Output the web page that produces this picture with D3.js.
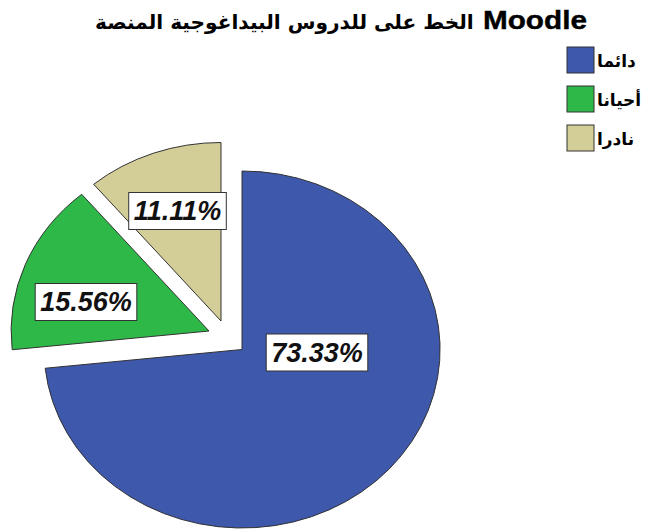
<!DOCTYPE html>
<html><head><meta charset="utf-8">
<script src="https://cdn.jsdelivr.net/npm/d3@7"></script>
<style>body{margin:0;background:#fff}</style>
</head><body>
<svg id="c" width="651" height="532"></svg>
<script>
// ---- data ----
const categories = ["دائما", "أحيانا", "نادرا"];
const percentages = [73.33, 15.56, 11.11];
const labelTexts = ["73.33%", "15.56%", "11.11%"];
const titleLatin = "Moodle";
const titleArabic = "الخط على للدروس البيداغوجية المنصة";

// ---- style / layout ----
const colors = ["#3E58AC", "#2EB848", "#D3CE97"];
const explode = [[0, 0], [-33, -18.5], [-21, -28.5]];
const labelNudge = [[75, 3], [-123, -29], [-43.5, -110]];
const center = {x: 242, y: 349.5};
const radius = {x: 198, y: 178.5};

const svg = d3.select("#c");

const pie = d3.pie().sort(null).value(d => d)(percentages);
const arc = d3.arc().innerRadius(0).outerRadius(1);

const slices = svg.append("g").selectAll("g").data(pie).join("g")
  .attr("transform", (d, i) => `translate(${center.x + explode[i][0]},${center.y + explode[i][1]})`);

slices.append("path")
  .attr("transform", `scale(${radius.x},${radius.y})`)
  .attr("d", arc)
  .attr("fill", (d, i) => colors[i])
  .attr("stroke", "#333")
  .attr("stroke-width", 1)
  .attr("vector-effect", "non-scaling-stroke");

// labels
slices.each(function(d, i) {
  const g = d3.select(this).append("g")
    .attr("transform", `translate(${labelNudge[i][0]},${labelNudge[i][1]})`);
  const rect = g.append("rect");
  const t = g.append("text")
    .attr("text-anchor", "middle")
    .attr("dominant-baseline", "central")
    .attr("font-family", "'Liberation Sans', Arial, sans-serif")
    .attr("font-weight", "bold")
    .attr("font-style", "italic")
    .attr("font-size", 27)
    .attr("fill", "#111")
    .text(labelTexts[i]);
  const w = t.node().getComputedTextLength();
  rect.attr("x", -w / 2 - 5).attr("y", -18.5).attr("width", w + 10).attr("height", 37)
    .attr("fill", "#fff").attr("stroke", "#333").attr("stroke-width", 1);
});

// title (two runs, fitted to the reference extents)
function fitText(sel, left, right, baseline) {
  const w = sel.node().getComputedTextLength();
  sel.attr("transform", `translate(${left},${baseline}) scale(${(right - left) / w},1)`);
}
const tLatin = svg.append("text")
  .attr("font-family", "'Liberation Sans', Arial, sans-serif")
  .attr("font-weight", "bold").attr("font-size", 25).attr("fill", "#000")
  .attr("stroke", "#000").attr("stroke-width", 0.4)
  .text(titleLatin);
fitText(tLatin, 483, 587, 29);
const tArabic = svg.append("text")
  .attr("direction", "rtl").attr("text-anchor", "end")
  .attr("font-family", "'DejaVu Sans', sans-serif")
  .attr("font-weight", "bold").attr("font-size", 20).attr("fill", "#000")
  .text(titleArabic);
fitText(tArabic, 95, 474, 29);

// legend
const legend = svg.append("g").selectAll("g").data(categories).join("g")
  .attr("transform", (d, i) => `translate(567,${47 + i * 39})`);
legend.append("rect")
  .attr("width", 27).attr("height", 26)
  .attr("fill", (d, i) => colors[i])
  .attr("stroke", "#333").attr("stroke-width", 1);
legend.append("text")
  .attr("x", 30).attr("y", 20)
  .attr("font-family", "'DejaVu Sans', 'Liberation Sans', sans-serif")
  .attr("font-weight", "bold")
  .attr("font-size", 17)
  .attr("fill", "#000")
  .text(d => d);
</script>
</body></html>
